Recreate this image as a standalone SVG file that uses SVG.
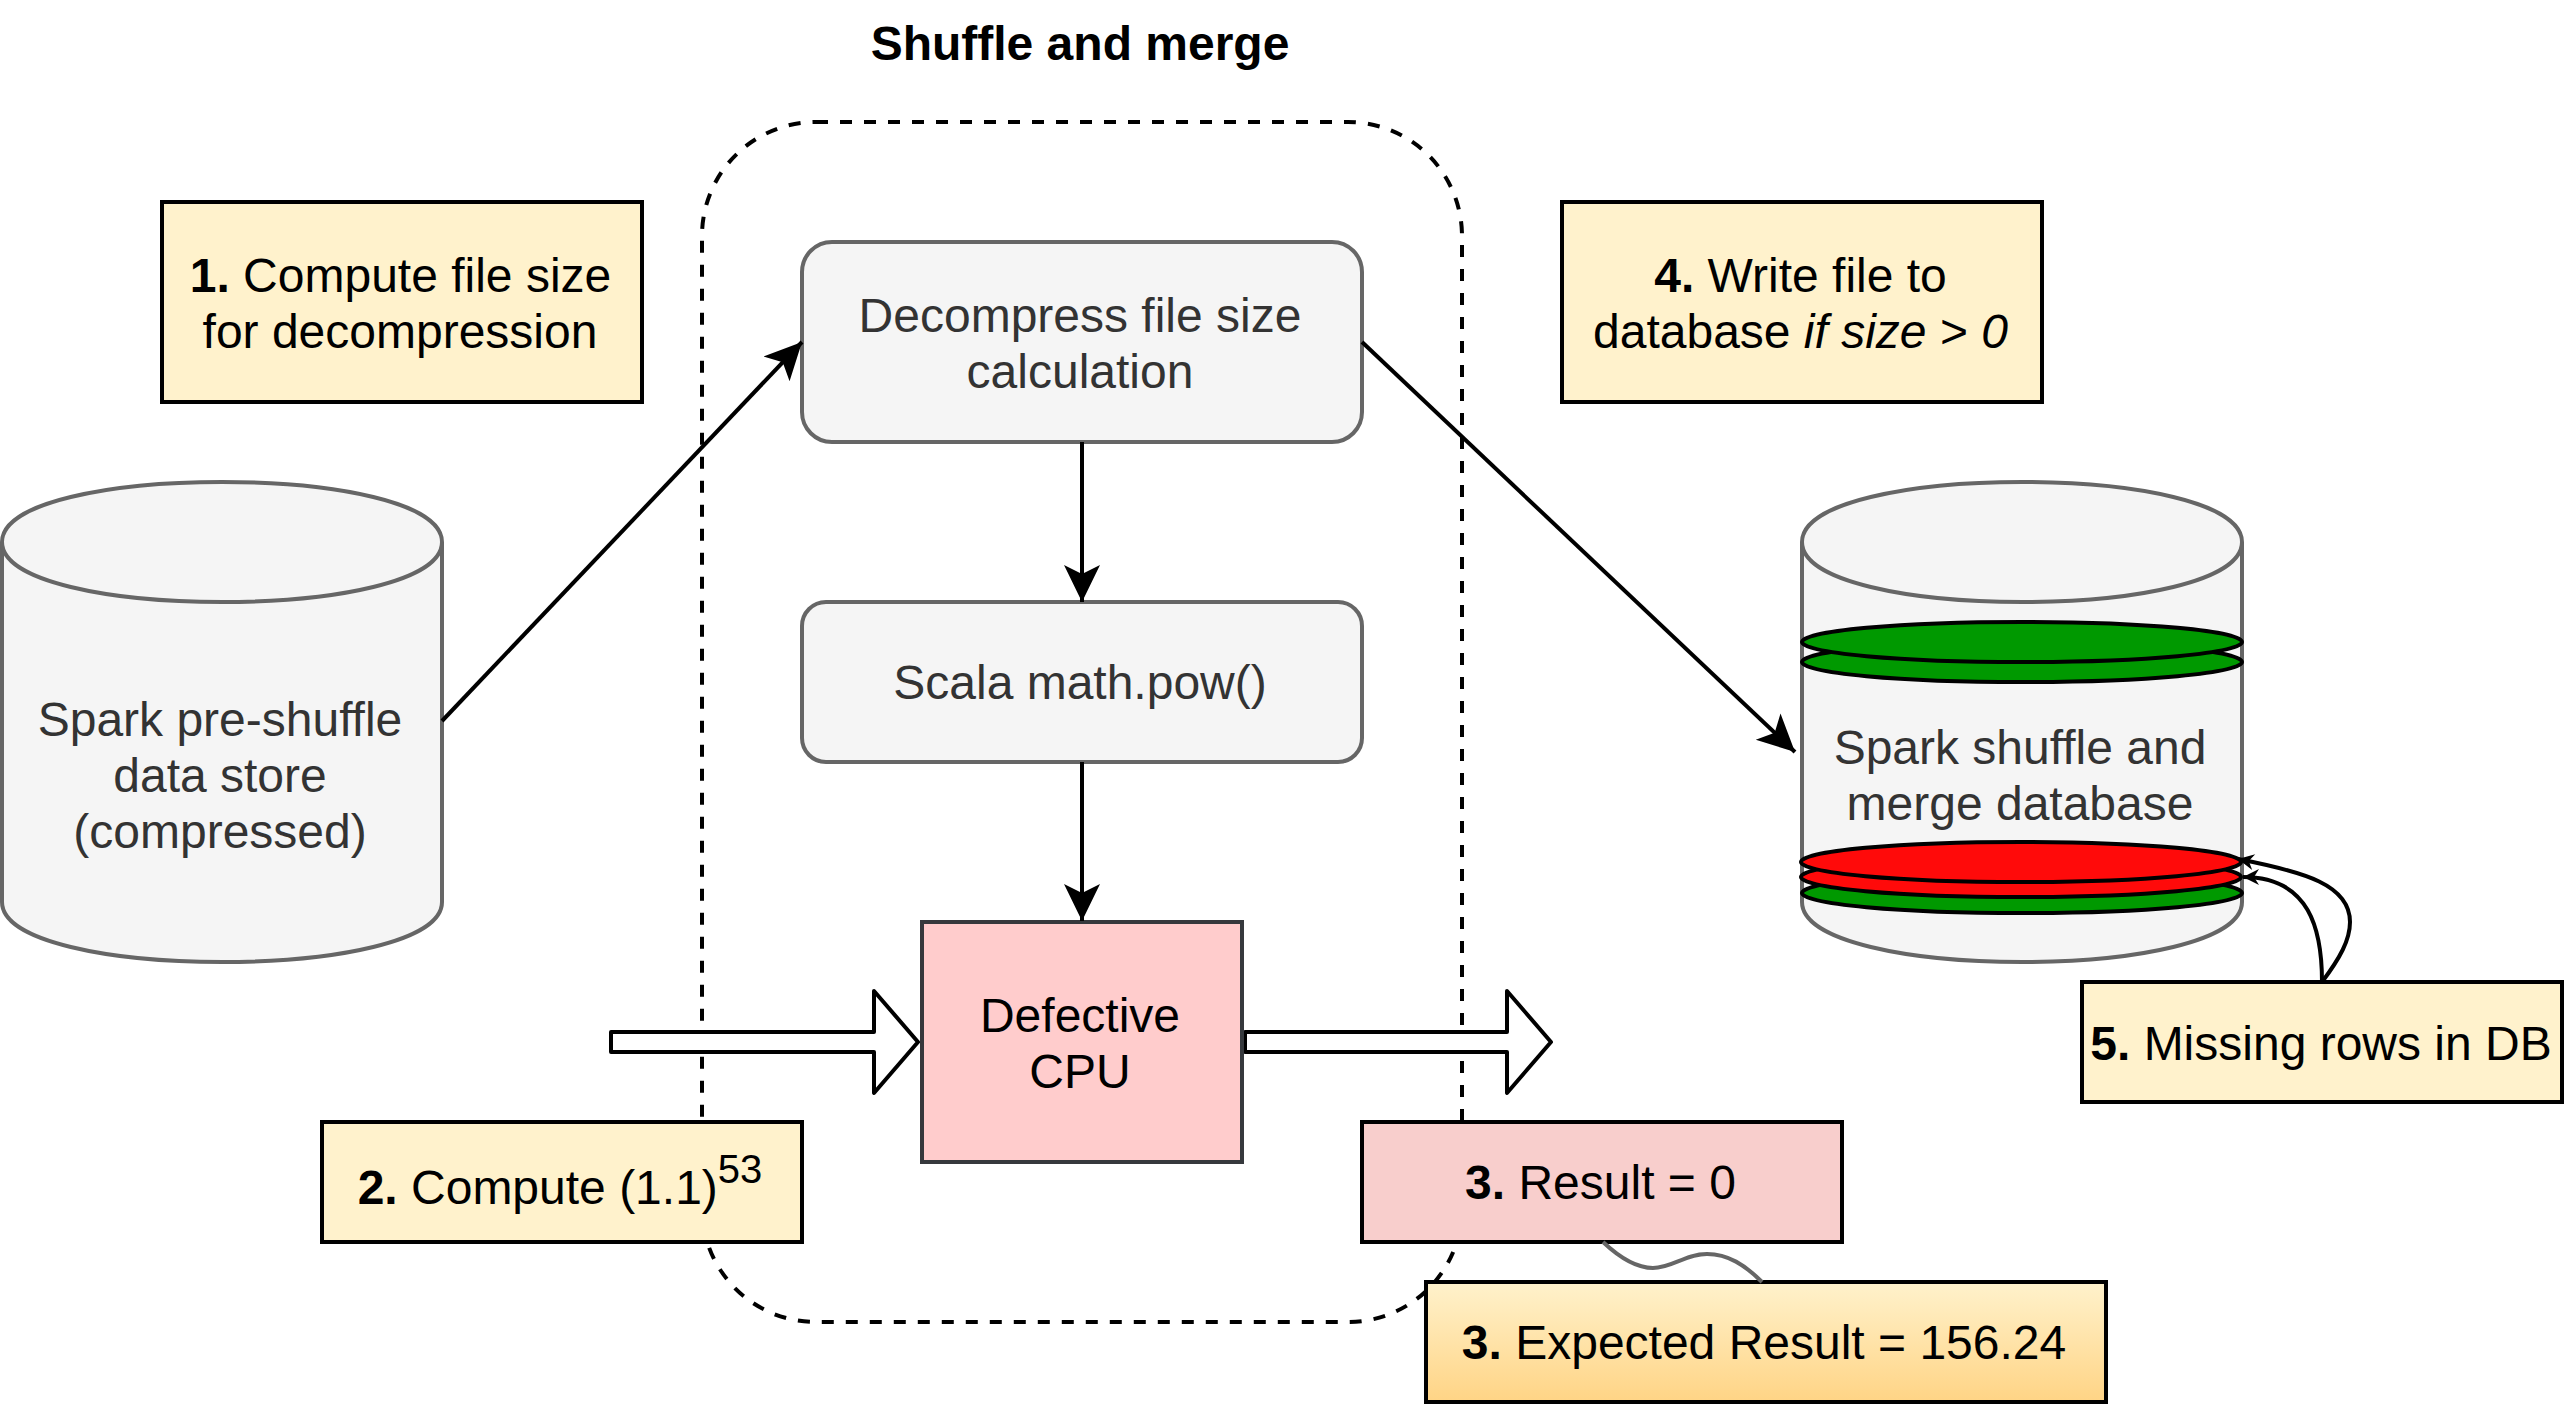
<svg xmlns="http://www.w3.org/2000/svg" width="2564" height="1404" viewBox="0 0 2564 1404">
<style>
text{font-family:"Liberation Sans",Arial,sans-serif;font-size:48px;text-anchor:middle;fill:#000}
.g{fill:#333}
.b{font-weight:bold}
.cyl{fill:#f5f5f5;stroke:#666;stroke-width:4}
.box{fill:#f5f5f5;stroke:#666;stroke-width:4}
.note{fill:#fff2cc;stroke:#000;stroke-width:4}
.disc{stroke:#000;stroke-width:4}
.line{fill:none;stroke:#000;stroke-width:4}
.hollow{fill:#fff;stroke:#000;stroke-width:4;stroke-linejoin:round}
</style>
<defs>
<marker id="ah" markerUnits="userSpaceOnUse" markerWidth="44" markerHeight="40" refX="37" refY="20" orient="auto"><path d="M0 2L37 20L0 38L9 20Z" fill="#000"/></marker>
<marker id="as" markerUnits="userSpaceOnUse" markerWidth="24" markerHeight="24" refX="17" refY="12" orient="auto"><path d="M1 4L17 12L1 20L6 12Z" fill="#000"/></marker>
<linearGradient id="gold" x1="0" y1="0" x2="0" y2="1"><stop offset="0" stop-color="#fff2cc"/><stop offset="1" stop-color="#ffd485"/></linearGradient>
</defs>
<rect width="2564" height="1404" fill="#fff"/>
<g id="shuffle-merge-group">
<path fill="none" stroke="#000" stroke-width="4" stroke-dasharray="12 12" d="M816 122H1348A114 114 0 0 1 1462 236V1208A114 114 0 0 1 1348 1322H816A114 114 0 0 1 702 1208V236A114 114 0 0 1 816 122Z"/>
<text class="b" x="1080" y="60">Shuffle and merge</text>
</g>
<g id="store-left">
<path class="cyl" d="M2 542C2 462 442 462 442 542V902C442 982 2 982 2 902Z"/>
<path class="cyl" d="M2 542C2 622 442 622 442 542"/>
<text class="g" x="220" y="736">Spark pre-shuffle</text>
<text class="g" x="220" y="792">data store</text>
<text class="g" x="220" y="848">(compressed)</text>
</g>
<g id="store-right">
<path class="cyl" d="M1802 542C1802 462 2242 462 2242 542V902C2242 982 1802 982 1802 902Z"/>
<path class="cyl" d="M1802 542C1802 622 2242 622 2242 542"/>
<text class="g" x="2020" y="764">Spark shuffle and</text>
<text class="g" x="2020" y="820">merge database</text>
</g>
<g id="arrow-in"><path class="hollow" d="M611 1032H874V991L918 1042L874 1093V1052H611Z"/></g>
<g id="arrow-out"><path class="hollow" d="M1245 1032H1507V991L1551 1042L1507 1093V1052H1245Z"/></g>
<g id="note-1">
<rect class="note" x="162" y="202" width="480" height="200"/>
<text x="400.500" y="292"><tspan class="b">1.</tspan> Compute file size</text>
<text x="400" y="348">for decompression</text>
</g>
<g id="note-4">
<rect class="note" x="1562" y="202" width="480" height="200"/>
<text x="1800.500" y="292"><tspan class="b">4.</tspan> Write file to</text>
<text x="1800.500" y="348">database <tspan font-style="italic">if size</tspan> &gt; <tspan font-style="italic">0</tspan></text>
</g>
<g id="decompress">
<rect class="box" x="802" y="242" width="560" height="200" rx="30"/>
<text class="g" x="1080" y="332">Decompress file size</text>
<text class="g" x="1080" y="388">calculation</text>
</g>
<g id="scala">
<rect class="box" x="802" y="602" width="560" height="160" rx="24"/>
<text class="g" x="1080" y="699">Scala math.pow()</text>
</g>
<g id="cpu">
<rect x="922" y="922" width="320" height="240" fill="#ffcccc" stroke="#36393d" stroke-width="4"/>
<text x="1080" y="1032">Defective</text>
<text x="1080" y="1088">CPU</text>
</g>
<g id="note-2">
<rect class="note" x="322" y="1122" width="480" height="120"/>
<text x="560" y="1204"><tspan class="b">2.</tspan> Compute (1.1)<tspan font-size="40" dy="-21">53</tspan></text>
</g>
<g id="result">
<rect x="1362" y="1122" width="480" height="120" fill="#f8cecc" stroke="#000" stroke-width="4"/>
<text x="1600.500" y="1199"><tspan class="b">3.</tspan> Result = 0</text>
</g>
<g id="expected">
<rect x="1426" y="1282" width="680" height="120" fill="url(#gold)" stroke="#000" stroke-width="4"/>
<text x="1764" y="1359"><tspan class="b">3.</tspan> Expected Result = 156.24</text>
</g>
<g id="note-5">
<rect class="note" x="2082" y="982" width="480" height="120"/>
<text x="2321" y="1060"><tspan class="b">5.</tspan> Missing rows in DB</text>
</g>
<g id="connectors">
<path class="line" d="M442 721L802 342" marker-end="url(#ah)"/>
<path class="line" d="M1362 342L1795 752" marker-end="url(#ah)"/>
<path class="line" d="M1082 442V602" marker-end="url(#ah)"/>
<path class="line" d="M1082 762V921" marker-end="url(#ah)"/>
<path class="line" d="M2322 982C2340 958 2350 940 2350 922C2350 885 2305 872 2238 859" marker-end="url(#as)"/>
<path class="line" d="M2322 982C2322 930 2310 877 2243 877" marker-end="url(#as)"/>
<path fill="none" stroke="#666" stroke-width="4" d="M1603 1242C1620 1258 1636 1268 1653 1268C1672 1268 1685 1254 1707 1254C1728 1254 1745 1265 1762 1282"/>
</g>
<g id="db-rows">
<ellipse class="disc" cx="2022" cy="662" rx="220" ry="20" fill="#009900"/>
<ellipse class="disc" cx="2022" cy="642" rx="220" ry="20" fill="#009900"/>
<ellipse class="disc" cx="2022" cy="893" rx="220" ry="20" fill="#009900"/>
<ellipse class="disc" cx="2021" cy="877" rx="220" ry="20" fill="#ff0a0a"/>
<ellipse class="disc" cx="2021" cy="862" rx="220" ry="20" fill="#ff0a0a"/>
</g>
</svg>
